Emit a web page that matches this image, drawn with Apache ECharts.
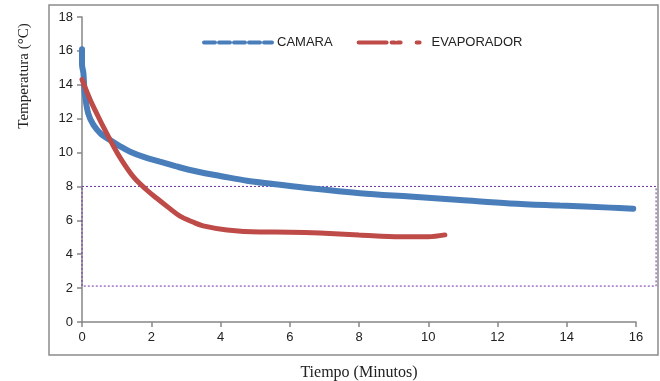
<!DOCTYPE html>
<html>
<head>
<meta charset="utf-8">
<script src="https://cdn.jsdelivr.net/npm/echarts@6/dist/echarts.min.js"></script>
<style>
  html, body { margin: 0; padding: 0; background: #fff; }
  #chart { width: 660px; height: 381px; }
</style>
</head>
<body>
<div id="chart"></div>
<script>
// datos
const camaraX = [0, 0, 0.04, 0.08, 0.18, 0.33, 0.55, 0.81, 1.1, 1.39, 1.8, 2.25, 2.7, 3.12, 3.55, 3.99, 4.76, 5.52, 6.59, 8.03, 9.47, 10.92, 12.36, 13.8, 15.25, 15.92];
const camaraY = [16.1, 15.2, 14.7, 13.5, 12.3, 11.63, 11.1, 10.74, 10.37, 10.05, 9.73, 9.46, 9.2, 8.97, 8.78, 8.62, 8.34, 8.15, 7.89, 7.6, 7.4, 7.2, 7.0, 6.87, 6.75, 6.69];
const evapX = [0, 0.23, 0.45, 0.62, 0.85, 1.1, 1.48, 1.87, 2.16, 2.5, 2.83, 3.2, 3.5, 4.19, 5.14, 6.0, 6.87, 8.0, 9.2, 10.0, 10.48];
const evapY = [14.3, 13.15, 12.2, 11.5, 10.6, 9.7, 8.58, 7.79, 7.3, 6.75, 6.25, 5.9, 5.67, 5.43, 5.31, 5.3, 5.25, 5.14, 5.03, 5.03, 5.14];
// rectángulo punteado (zona de referencia), se sale del eje hasta ~16.6
const bandX = [0, 16.58, 16.58, 0, 0];
const bandY = [8, 8, 2.12, 2.12, 8];

const zip = (xs, ys) => xs.map((x, i) => [x, ys[i]]);

const chart = echarts.init(document.getElementById('chart'));

const axisGrey = '#868686';
const blue = '#4a7ebb';
const red = '#be4b48';
const labelFont = { fontFamily: 'Liberation Sans', fontSize: 13, color: '#222' };

chart.setOption({
  animation: false,
  grid: { left: 82, right: 24, top: 17, bottom: 59, outerBoundsMode: 'none', containLabel: false },
  legend: {
    top: 31,
    left: 197,
    itemGap: 24,
    itemWidth: 68,
    itemHeight: 14,
    textStyle: { fontFamily: 'Liberation Sans', fontSize: 13, color: '#222' },
    data: [
      { name: 'CAMARA', itemStyle: { opacity: 0 }, lineStyle: { type: [11, 4], width: 4, color: blue } },
      { name: 'EVAPORADOR', itemStyle: { opacity: 0 }, lineStyle: { type: [28, 5, 3, 3, 3, 16, 3, 40], width: 4, color: red } }
    ]
  },
  xAxis: {
    type: 'value',
    min: 0,
    max: 16,
    interval: 2,
    splitLine: { show: false },
    axisLine: { lineStyle: { color: axisGrey, width: 1.5 } },
    axisTick: { show: true, length: 5, lineStyle: { color: axisGrey, width: 1.5 } },
    axisLabel: Object.assign({ margin: 9 }, labelFont),
    name: 'Tiempo (Minutos)',
    nameLocation: 'middle',
    nameGap: 43,
    nameTextStyle: { fontFamily: 'Liberation Serif', fontSize: 16, color: '#222' }
  },
  yAxis: {
    type: 'value',
    min: 0,
    max: 18,
    interval: 2,
    splitLine: { show: false },
    axisLine: { show: true, lineStyle: { color: axisGrey, width: 1.5 } },
    axisTick: { show: true, length: 5, lineStyle: { color: axisGrey, width: 1.5 } },
    axisLabel: Object.assign({ margin: 9 }, labelFont)
  },
  series: [
    {
      name: 'CAMARA',
      type: 'line',
      data: zip(camaraX, camaraY),
      smooth: 0.35,
      symbol: 'none',
      lineStyle: { color: blue, width: 6, cap: 'round' },
      itemStyle: { color: blue },
      z: 2
    },
    {
      name: 'EVAPORADOR',
      type: 'line',
      data: zip(evapX, evapY),
      smooth: 0.35,
      symbol: 'none',
      lineStyle: { color: red, width: 5, cap: 'round' },
      itemStyle: { color: red },
      z: 3
    }
  ]
});

// rectángulo punteado y marco exterior, posicionados con la escala del gráfico
const bandPts = zip(bandX, bandY).map(p => chart.convertToPixel({ gridIndex: 0 }, p));
chart.setOption({
  graphic: [
    {
      type: 'polyline',
      shape: { points: bandPts },
      style: { fill: 'none', stroke: '#7030a0', lineWidth: 1, lineDash: [2, 2] },
      silent: true,
      z: 1
    },
    {
      type: 'rect',
      shape: { x: 49, y: 5, width: 609, height: 350 },
      style: { fill: 'none', stroke: '#8c8c8c', lineWidth: 1.5 },
      silent: true
    },
    {
      type: 'text',
      x: 24,
      y: 76,
      rotation: Math.PI / 2,
      style: {
        text: 'Temperatura (°C)',
        font: '15px "Liberation Serif"',
        fill: '#222',
        align: 'center',
        verticalAlign: 'middle'
      },
      silent: true
    }
  ]
});
</script>
</body>
</html>
